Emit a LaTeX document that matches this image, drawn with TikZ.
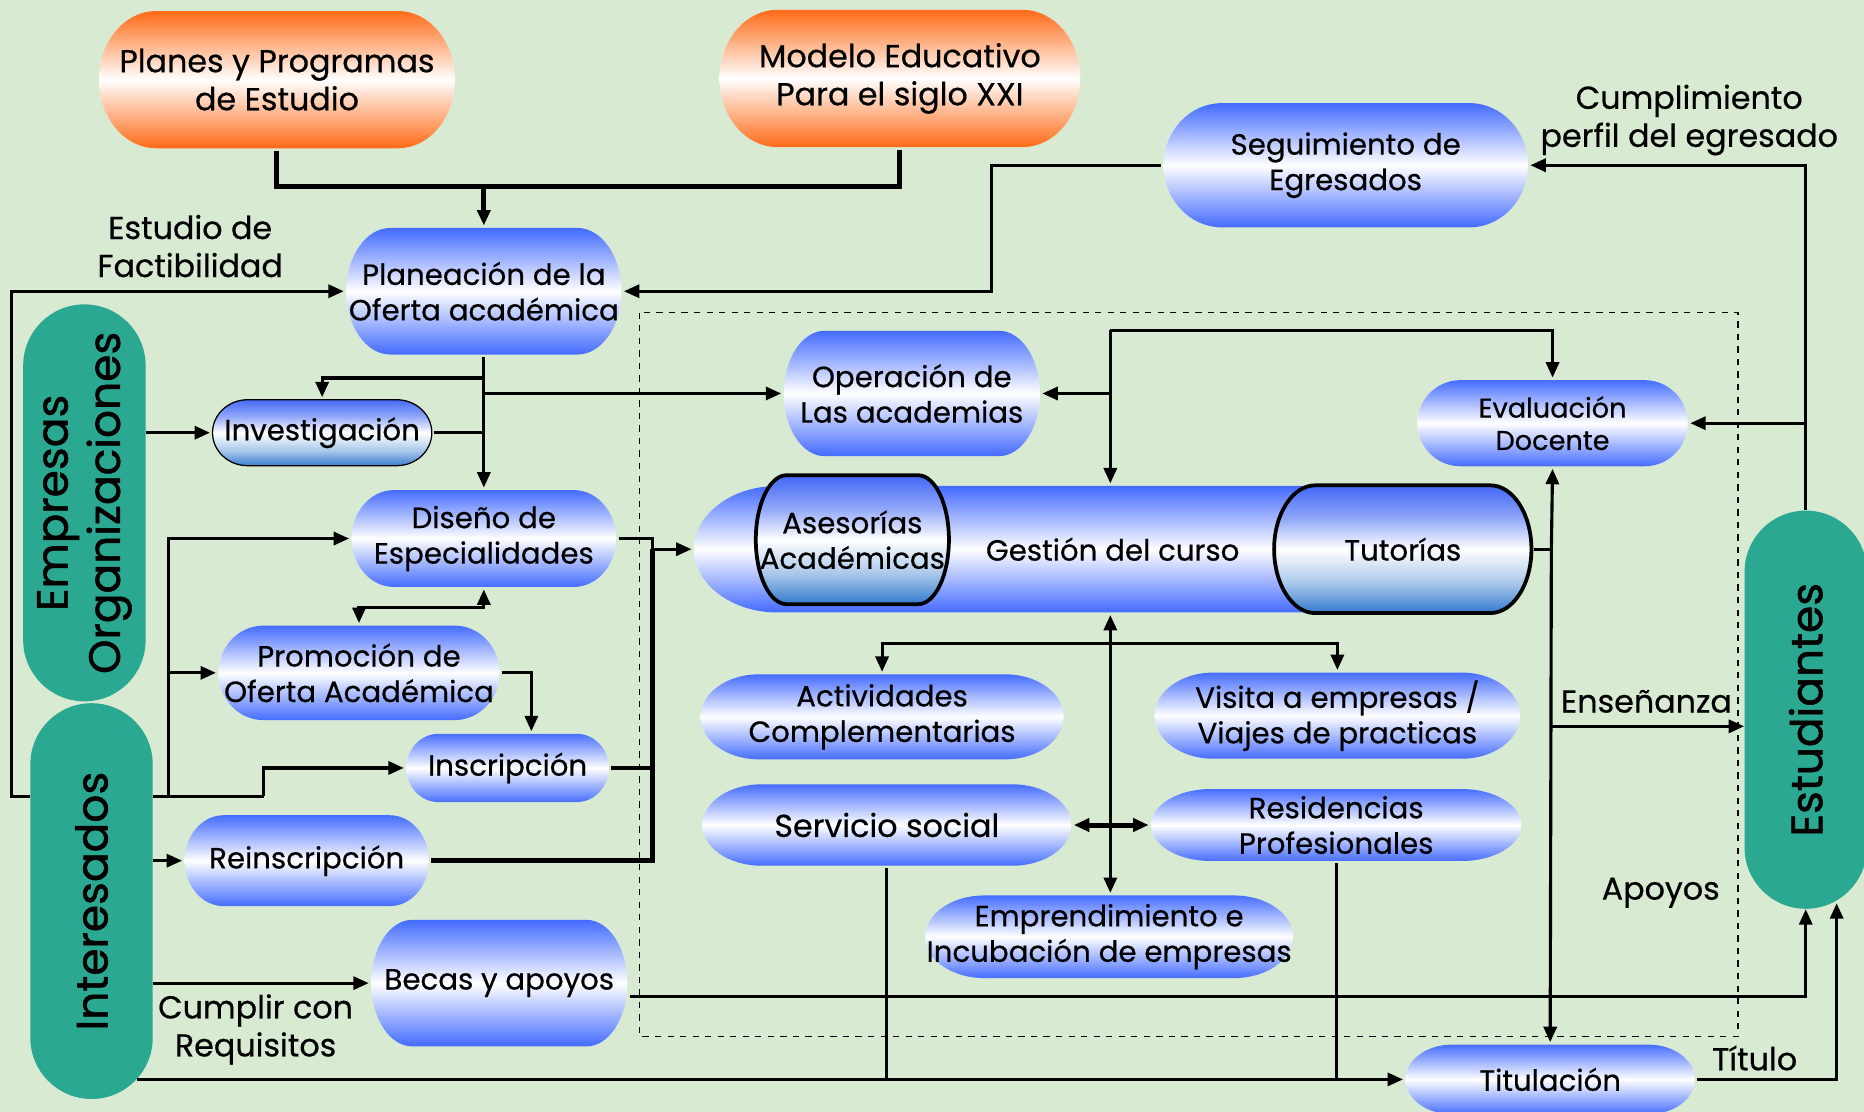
\documentclass[tikz,border=0pt]{standalone}
\usepackage{fontspec}
\setmainfont{Poppins}[FakeBold=0.5]
\newfontfamily\tealfont{Poppins}[FakeBold=1.2]
\usetikzlibrary{calc,arrows.meta}

\definecolor{bgc}{RGB}{217,234,211}
\definecolor{blu}{RGB}{61,102,255}
\definecolor{orng}{RGB}{255,102,16}
\definecolor{tealc}{RGB}{42,168,145}
\definecolor{cyltop}{RGB}{61,99,245}
\definecolor{cylhi}{RGB}{142,165,248}
\definecolor{cyllo}{RGB}{167,198,234}
\definecolor{cylbot}{RGB}{42,116,204}

\pgfdeclareverticalshading{cylgrad}{100bp}{color(0bp)=(cylbot); color(25bp)=(cylbot);
  color(37bp)=(cyllo); color(50bp)=(white); color(62bp)=(cylhi); color(75bp)=(cyltop);
  color(100bp)=(cyltop)}

\newcommand\boxfont{\fontsize{14}{17}\selectfont}
\newcommand\bigboxfont{\fontsize{15.2}{18.2}\selectfont}
\newcommand\smallboxfont{\fontsize{13}{15.5}\selectfont}

\tikzset{
  term/.style n args={2}{align=center, inner sep=0pt, font=\boxfont,
    path picture={\path[#1] let
      \p1=([shift={(1pt,1pt)}]path picture bounding box.south west),
      \p2=([shift={(-1pt,-1pt)}]path picture bounding box.north east),
      \n1={#2*(\x2-\x1)}, \n2={0.5*(\y2-\y1)} in
      (\x1+\n1,\y2) -- (\x2-\n1,\y2)
      arc[start angle=90, end angle=-90, x radius=\n1, y radius=\n2]
      -- (\x1+\n1,\y1)
      arc[start angle=270, end angle=90, x radius=\n1, y radius=\n2] -- cycle;}},
  blueshade/.style={top color=blu, bottom color=blu, middle color=white},
  orangeshade/.style={top color=orng, bottom color=orng, middle color=white},
  cylshade/.style={shade, shading=cylgrad, draw=black, line width=#1},
  bluebox/.style={term={blueshade}{0.16}},
  orangebox/.style={term={orangeshade}{0.16}},
  cylbox/.style={term={cylshade=#1}{0.16}},
  actor/.style={rotate=90, fill=tealc, rounded corners=1.03cm, align=center,
    inner sep=0pt, minimum height=2.06cm, font=\tealfont\fontsize{21}{25}\selectfont},
  lbl/.style={align=center, font=\bigboxfont},
  conn/.style={line width=1.5pt},
  heavyconn/.style={line width=2.4pt},
  >={Triangle[length=0.26cm,width=0.22cm]},
}

\begin{document}
\begin{tikzpicture}[x=0.02cm, y=-0.02cm]
\useasboundingbox (0,0) rectangle (1568,935);
\fill[bgc] (0,0) rectangle (1568,935);
\draw[dashed, line width=0.8pt] (538,263) rectangle (1462,872);

% top sources
\node[orangebox, minimum width=6.06cm, minimum height=2.38cm, font=\bigboxfont] (plan) at (233,67) {Planes y Programas\\de Estudio};
\node[orangebox, minimum width=6.14cm, minimum height=2.38cm, font=\bigboxfont] (modelo) at (757,66) {Modelo Educativo\\Para el siglo XXI};
\node[bluebox, minimum width=6.2cm, minimum height=2.16cm] (segui) at (1132,139) {Seguimiento de\\Egresados};

% left column
\node[bluebox, minimum width=4.7cm, minimum height=2.2cm] (planea) at (407,245) {Planeación de la\\Oferta académica};
\node[cylbox=0.6pt, minimum width=3.76cm, minimum height=1.18cm] (invest) at (271,364) {Investigación};
\node[bluebox, minimum width=4.52cm, minimum height=1.7cm] (diseno) at (407,453) {Diseño de\\Especialidades};
\node[bluebox, minimum width=4.8cm, minimum height=1.66cm] (promo) at (302,566) {Promoción de\\Oferta Académica};
\node[bluebox, minimum width=3.48cm, minimum height=1.22cm] (inscr) at (427,646) {Inscripción};
\node[bluebox, minimum width=4.18cm, minimum height=1.6cm] (reins) at (258,724) {Reinscripción};
\node[bluebox, minimum width=4.38cm, minimum height=2.2cm] (becas) at (420,827) {Becas y apoyos};

% the course
\node[bluebox, minimum width=4.38cm, minimum height=2.18cm] (opera) at (767,331) {Operación de\\Las academias};
\node[bluebox, minimum width=4.62cm, minimum height=1.52cm, font=\smallboxfont] (evalu) at (1306,356) {Evaluación\\Docente};
\node[term={blueshade}{0.1}, minimum width=14.16cm, minimum height=2.2cm] (gestion) at (936,462) {Gestión del curso};
\node[cylbox=1.8pt, minimum width=3.32cm, minimum height=2.24cm] (asesor) at (717,454) {Asesorías\\Académicas};
\node[cylbox=1.8pt, minimum width=4.4cm, minimum height=2.22cm] (tutor) at (1180,462) {Tutorías};
\node[bluebox, minimum width=6.18cm, minimum height=1.5cm] (activ) at (742,603) {Actividades\\Complementarias};
\node[bluebox, minimum width=6.22cm, minimum height=1.52cm] (visita) at (1125,602) {Visita a empresas /\\Viajes de practicas};
\node[bluebox, minimum width=6.28cm, minimum height=1.44cm, font=\bigboxfont] (servi) at (746,694) {Servicio social};
\node[bluebox, minimum width=6.3cm, minimum height=1.28cm] (resid) at (1124,694) {Residencias\\Profesionales};
\node[bluebox, minimum width=6.26cm, minimum height=1.46cm] (empren) at (933,788) {Emprendimiento e\\Incubación de empresas};
\node[bluebox, minimum width=4.94cm, minimum height=1.24cm] (titul) at (1304,908) {Titulación};

% actors (rotated: south is their right side)
\node[actor, minimum width=6.68cm] (empresas) at (71,423) {Empresas\\Organizaciones};
\node[actor, minimum width=6.66cm] (interes) at (77,758) {Interesados};
\node[actor, minimum width=6.7cm] (estud) at (1519,597) {Estudiantes};

% labels
\node[lbl] (factib) at (160,207) {Estudio de\\Factibilidad};
\node[lbl] (cumpl) at (1421,101) {Cumplimiento\\perfil del egresado};
\node[lbl] (ensen) at (1385,590) {Enseñanza};
\node[lbl] (apoyos) at (1397,751) {Apoyos};
\node[lbl] (requis) at (215,866) {Cumplir con\\Requisitos};
\node[lbl] (titulo) at (1476,890) {Título};

\coordinate (trunk) at (407,157);
\coordinate (lp) at (10,670);
\coordinate (jl) at (142,670);
\coordinate (ji) at (222,670);
\coordinate (pb) at (407,318);
\coordinate (bus) at (549,462);
\coordinate (gt) at (934,278);
\coordinate (gb) at (934,541);
\coordinate (tr) at (1305,462);
\coordinate (en) at (1305,611);
\coordinate (ap) at (1519,838);
\coordinate (tb) at (115,908);

% planning
\draw[heavyconn] (plan.south) |- (trunk) -| (modelo.south);
\draw[heavyconn,->] (trunk) -- (planea.north);
\draw[conn,->] (segui.west) -- ++(-143,0) |- (planea.east);
\draw[conn,->] (estud.east) |- (segui.east);
\draw[conn,->] (estud.east |- evalu.east) -- (evalu.east);
\draw[conn,->] (interes.north |- lp) -- (lp) |- (planea.west);

% from planeacion down
\draw[conn,->] (planea.south) -- (pb) -| (invest.north);
\draw[conn,->] (pb) -- (diseno.north);
\draw[conn,->] (planea.south |- opera.west) -- (opera.west);
\draw[conn] (invest.east) -- (invest.east -| pb);
\draw[conn,->] (empresas.south |- invest.west) -- (invest.west);
\draw[conn,<->] (promo.north) -- ++(0,-13) -| (diseno.south);
\draw[conn,->] (promo.east) -| ([xshift=0.4cm]inscr.north);

% interesados
\draw[conn] (interes.south |- lp) -- (ji);
\draw[conn,->] (jl) |- (diseno.west);
\draw[conn,->] (jl |- promo.west) -- (promo.west);
\draw[conn,->] (ji) |- (inscr.west);
\draw[conn,->] (interes.south |- reins.west) -- (reins.west);
\draw[conn,->] (interes.south |- becas.west) -- (becas.west);
\draw[conn,->] (tb) -- (titul.west);

% into the course
\draw[conn] (diseno.east) -| (bus);
\draw[conn] (inscr.east) -| (bus);
\draw[heavyconn] (reins.east) -| (bus);
\draw[conn,->] (bus) -- (gestion.west);

% course links
\draw[conn,->] (gt) -- (gt |- gestion.north);
\draw[conn,->] (gt) -| (evalu.north);
\draw[conn,->] (gt |- opera.east) -- (opera.east);
\draw[conn,<->] (gt |- gestion.south) -- (gt |- empren.north);
\draw[conn,->] (gb) -| (activ.north);
\draw[conn,->] (gb) -| (visita.north);
\draw[heavyconn,<->] (servi.east) -- (resid.west);
\draw[conn] (servi.south) -- (servi.south |- titul.west);
\draw[conn] (resid.south) -- (resid.south |- titul.west);

% out to students
\draw[conn] (tutor.east) -- (tr);
\draw[conn,->] (tr) -- (evalu.south);
\draw[conn,->] (tr) -- (titul.north);
\draw[conn,->] (en) -- (estud.north |- en);
\draw[conn,->] (ap -| becas.east) -- (ap) -- (estud.west);
\draw[conn,->] (titul.east) -| ([xshift=0.52cm,yshift=0.1cm]estud.west);

\end{tikzpicture}
\end{document}
